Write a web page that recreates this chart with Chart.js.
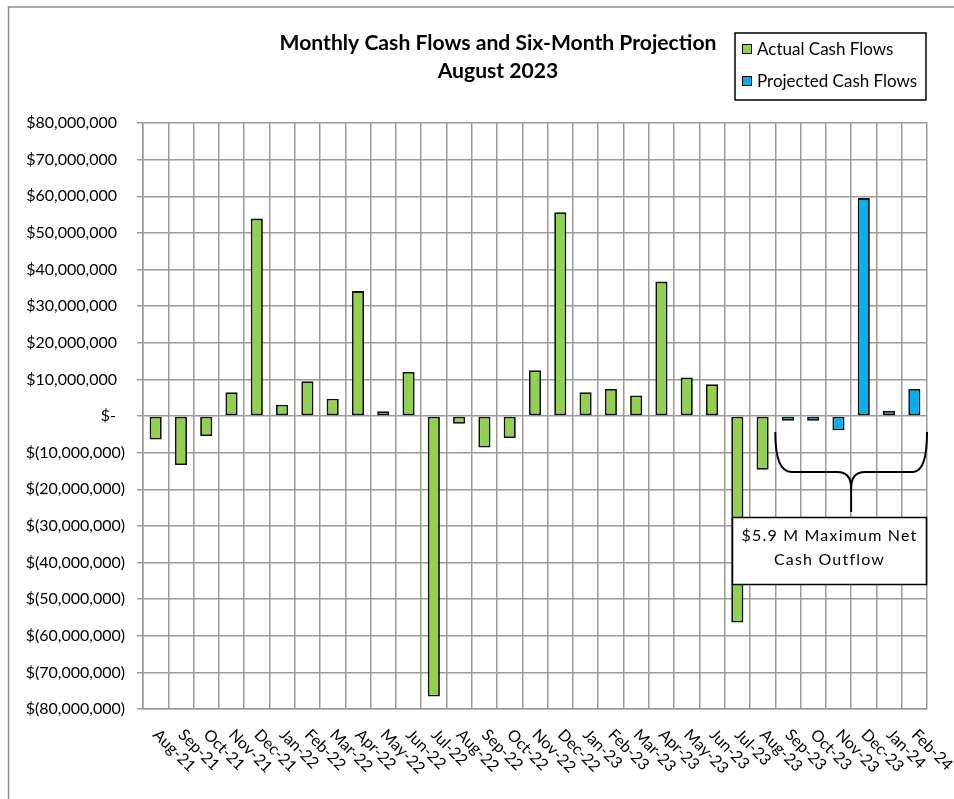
<!DOCTYPE html>
<html>
<head>
<meta charset="utf-8">
<title>Monthly Cash Flows and Six-Month Projection</title>
<script src="https://cdn.jsdelivr.net/npm/chart.js@4.4.1/dist/chart.umd.min.js"></script>
<style>
  html, body { margin: 0; padding: 0; background: #fff; }
  #wrap { width: 954px; height: 799px; }
</style>
</head>
<body>
<div id="wrap"><canvas id="cashChart" width="954" height="799"></canvas></div>
<script>
const months = ['Aug-21', 'Sep-21', 'Oct-21', 'Nov-21', 'Dec-21', 'Jan-22', 'Feb-22', 'Mar-22', 'Apr-22',
  'May-22', 'Jun-22', 'Jul-22', 'Aug-22', 'Sep-22', 'Oct-22', 'Nov-22', 'Dec-22', 'Jan-23', 'Feb-23',
  'Mar-23', 'Apr-23', 'May-23', 'Jun-23', 'Jul-23', 'Aug-23', 'Sep-23', 'Oct-23', 'Nov-23', 'Dec-23',
  'Jan-24', 'Feb-24'];

// actual monthly net cash flows, Aug-21 .. Aug-23
const actualFlows = [-6.4e6, -13.4e6, -5.5e6, 6.5e6, 53.9e6, 3.1e6, 9.5e6, 4.7e6, 34.1e6, 1.3e6, 12.0e6,
  -76.6e6, -2.1e6, -8.6e6, -6.0e6, 12.5e6, 55.6e6, 6.5e6, 7.4e6, 5.6e6, 36.7e6, 10.5e6, 8.7e6,
  -56.4e6, -14.7e6];

// six-month projection, Sep-23 .. Feb-24
const projectedFlows = [-1.3e6, -1.3e6, -3.9e6, 59.5e6, 1.4e6, 7.4e6];

const yMin = -80e6;
const yMax = 80e6;
const yStep = 10e6;

const titleLines = ['Monthly Cash Flows and Six-Month Projection', 'August 2023'];
const calloutLines = ['$5.9 M Maximum Net', 'Cash Outflow'];

const FONT = 'Lato, "Open Sans", sans-serif';
const green = '#92D050';
const blue = '#00B0F0';
const gridGrey = '#9a9a9a';

const nPad = (n) => new Array(n).fill(null);
const actualData = actualFlows.concat(nPad(months.length - actualFlows.length));
const projectedData = nPad(months.length - projectedFlows.length).concat(projectedFlows);

function money(v) {
  if (v === 0) return '$-\u2002\u200A';
  const s = Math.abs(v).toLocaleString('en-US');
  return v < 0 ? '$(' + s + ')' : '$' + s + '\u2002';
}

// title, legend, x labels, bracket + callout
const decorations = {
  id: 'decorations',
  beforeDraw(chart) {
    const c = chart.ctx;
    c.save();
    c.strokeStyle = '#8c8c8c';
    c.lineWidth = 1.5;
    c.strokeRect(8.5, 7, 1200, 1200);
    c.restore();
  },
  afterDraw(chart) {
    const c = chart.ctx;
    const x = chart.scales.x;
    const y = chart.scales.y;
    const area = chart.chartArea;
    const half = (x.getPixelForValue(1) - x.getPixelForValue(0)) / 2;

    c.save();
    c.fillStyle = '#000';

    // title
    let size = 20;
    c.font = 'bold ' + size + 'px ' + FONT;
    const w = c.measureText(titleLines[0]).width;
    size = size * 437 / w;
    c.font = 'bold ' + size.toFixed(2) + 'px ' + FONT;
    c.textAlign = 'center';
    c.textBaseline = 'middle';
    c.fillText(titleLines[0], 498, 43);
    c.fillText(titleLines[1], 498, 71);

    // legend box
    c.lineWidth = 1.5;
    c.strokeStyle = '#000';
    c.fillStyle = '#fff';
    c.fillRect(735, 33, 191, 67);
    c.strokeRect(735, 33, 191, 67);
    const items = [['Actual Cash Flows', green, 49], ['Projected Cash Flows', blue, 81]];
    c.font = '17px ' + FONT;
    c.textAlign = 'left';
    items.forEach(([txt, col, cy]) => {
      c.fillStyle = col;
      c.fillRect(742, cy - 5, 10, 10);
      c.lineWidth = 1;
      c.strokeRect(742.5, cy - 4.5, 9, 9);
      c.fillStyle = '#000';
      c.fillText(txt, 757, cy + 1);
    });

    // rotated x labels
    c.font = '16px ' + FONT;
    c.textAlign = 'left';
    c.textBaseline = 'middle';
    months.forEach((m, i) => {
      const px = x.getPixelForValue(i);
      c.save();
      c.translate(px, area.bottom + 23);
      c.rotate(Math.PI / 4);
      c.fillText(m, 0, 0);
      c.restore();
    });

    // curly bracket under the projection months
    const L = x.getPixelForValue(actualFlows.length) - half;
    const R = area.right;
    const C = x.getPixelForValue(actualFlows.length + 3) - half;
    const yTop = y.getPixelForValue(-4.4e6);
    const yMid = y.getPixelForValue(-15.3e6);
    const yTip = y.getPixelForValue(-26.2e6);
    c.strokeStyle = '#000';
    c.lineWidth = 2;
    c.beginPath();
    c.moveTo(L, yTop);
    c.quadraticCurveTo(L, yMid, L + 16, yMid);
    c.lineTo(C - 14, yMid);
    c.quadraticCurveTo(C, yMid, C, yMid + 16);
    c.lineTo(C, yTip);
    c.moveTo(C, yMid + 16);
    c.quadraticCurveTo(C, yMid, C + 14, yMid);
    c.lineTo(R - 14, yMid);
    c.quadraticCurveTo(R, yMid, R, yTop);
    c.stroke();

    // callout box
    const bx = 732.5, by = 517.5, bw = 194, bh = 67;
    c.fillStyle = '#fff';
    c.fillRect(bx, by, bw, bh);
    c.lineWidth = 1.5;
    c.strokeRect(bx, by, bw, bh);
    c.fillStyle = '#000';
    c.font = '16px ' + FONT;
    c.textAlign = 'center';
    if ('letterSpacing' in c) c.letterSpacing = '1.2px';
    c.fillText(calloutLines[0], bx + bw / 2, by + 18);
    c.fillText(calloutLines[1], bx + bw / 2, by + 42);
    c.restore();
  }
};

const ctx = document.getElementById('cashChart').getContext('2d');
new Chart(ctx, {
  type: 'bar',
  data: {
    labels: months,
    datasets: [
      {
        label: 'Actual Cash Flows',
        data: actualData,
        backgroundColor: green,
        borderColor: '#111',
        borderWidth: 1.8,
        borderSkipped: false,
        grouped: false,
        categoryPercentage: 1,
        barPercentage: 0.48,
      },
      {
        label: 'Projected Cash Flows',
        data: projectedData,
        backgroundColor: blue,
        borderColor: '#111',
        borderWidth: 1.8,
        borderSkipped: false,
        grouped: false,
        categoryPercentage: 1,
        barPercentage: 0.48,
      }
    ]
  },
  options: {
    responsive: false,
    animation: false,
    layout: { padding: { top: 123, right: 27, bottom: 0, left: 0 } },
    plugins: {
      legend: { display: false },
      title: { display: false },
      tooltip: { enabled: false }
    },
    scales: {
      x: {
        grid: { color: gridGrey, lineWidth: 1.5, offset: true, drawTicks: false },
        border: { color: gridGrey, width: 1.5 },
        ticks: { display: false },
        afterFit(scale) { scale.height = 90; }
      },
      y: {
        min: yMin,
        max: yMax,
        grid: { color: gridGrey, lineWidth: 1.5, tickLength: 6 },
        border: { color: gridGrey, width: 1.5 },
        ticks: {
          stepSize: yStep,
          padding: 12,
          color: '#000',
          font: { family: FONT, size: 16 },
          callback: (v) => money(v)
        },
        afterFit(scale) { scale.width = 143; }
      }
    }
  },
  plugins: [decorations]
});
</script>
</body>
</html>
